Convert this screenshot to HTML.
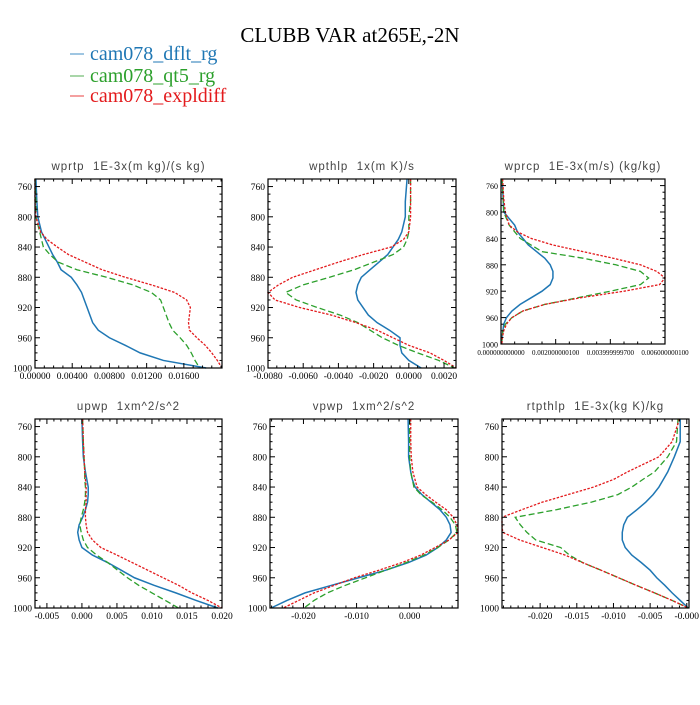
<!DOCTYPE html>
<html><head><meta charset="utf-8"><style>
body{margin:0;background:#fff;}
svg text{font-family:"Liberation Serif",serif;}
.pt{font-family:"Liberation Sans",sans-serif;font-size:11.5px;fill:#444;letter-spacing:1px;white-space:pre;}
</style></head><body>
<svg id="chart" width="700" height="700" xmlns="http://www.w3.org/2000/svg">
<rect width="700" height="700" fill="#fff"/>
<text x="350" y="42" text-anchor="middle" font-size="21">CLUBB VAR at265E,-2N</text>
<g font-size="20">
<line x1="70" x2="84" y1="54" y2="54" stroke="#7fb2d8" stroke-width="1.5"/>
<line x1="70" x2="84" y1="76" y2="76" stroke="#8cc98c" stroke-width="1.5"/>
<line x1="70" x2="84" y1="96" y2="96" stroke="#f08080" stroke-width="1.5"/>
<text x="90" y="60" fill="#1f77b4">cam078_dflt_rg</text>
<text x="90" y="82" fill="#2ca02c">cam078_qt5_rg</text>
<text x="90" y="102" fill="#e31a1c">cam078_expldiff</text>
</g>
<g id="panels"></g>
</svg>
<script>
const levels=[750,780,800,820,830,840,850,860,870,880,890,900,910,920,930,940,950,960,970,980,990,1000];
const seriesNames=["cam078_dflt_rg","cam078_qt5_rg","cam078_expldiff"];
const wprtpDflt=[0.0001,0.0002,0.0003,0.0007,0.0011,0.0015,0.0019,0.0024,0.0028,0.0039,0.0045,0.0050,0.0053,0.0056,0.0059,0.0062,0.0068,0.0080,0.0097,0.0113,0.0138,0.0184];
const wprtpQt5=[0,0.0001,0.0001,0.0005,0.0007,0.0009,0.0016,0.0025,0.0045,0.0077,0.0105,0.0125,0.0135,0.0138,0.0141,0.0144,0.0148,0.0156,0.0163,0.0168,0.0172,0.0177];
const wprtpExpl=[0,0,0.0001,0.0006,0.0013,0.0024,0.0036,0.0054,0.0072,0.0097,0.0125,0.0150,0.0163,0.0167,0.0166,0.0165,0.0166,0.0174,0.0183,0.0190,0.0196,0.0201];
const wpthlpDflt=[-0.0001,-0.0002,-0.0002,-0.0004,-0.0006,-0.0009,-0.0012,-0.0017,-0.0022,-0.0027,-0.0029,-0.0030,-0.0029,-0.0026,-0.0023,-0.0018,-0.0011,-0.0005,-0.0005,-0.0004,0.0000,0.0007];
const wpthlpQt5=[0.0001,0.0001,0,0,-0.0001,-0.0003,-0.0009,-0.0020,-0.0031,-0.0045,-0.0060,-0.0070,-0.0064,-0.0052,-0.0039,-0.0029,-0.0022,-0.0015,-0.0006,0.0005,0.0017,0.0026];
const wpthlpExpl=[0.0001,0.0001,0.0001,0,-0.0003,-0.0010,-0.0026,-0.0040,-0.0053,-0.0066,-0.0074,-0.0080,-0.0076,-0.0062,-0.0044,-0.0030,-0.0018,-0.0009,0.0000,0.0012,0.0020,0.0027];
const wprcpDflt=[0.00004,0.00008,0.0001,0.0005,0.0006,0.0008,0.0010,0.0013,0.0016,0.0018,0.0019,0.0019,0.0018,0.0015,0.0011,0.0007,0.0004,0.0002,0.0001,0.00007,0.00003,0.00001];
const wprcpQt5=[0.00004,0.00008,0.0001,0.0003,0.0005,0.0007,0.0011,0.0015,0.0030,0.0042,0.0051,0.0054,0.0051,0.0040,0.0028,0.0016,0.0008,0.0004,0.00016,0.00007,0.00004,0.00003];
const wprcpExpl=[0.00006,0.0001,0.00016,0.0003,0.0006,0.0011,0.0019,0.0030,0.0041,0.0051,0.0057,0.0060,0.0058,0.0045,0.0029,0.0016,0.0008,0.0004,0.0002,0.0001,0.00005,0.00003];
const upwpDflt=[0,0.0001,0.0002,0.0005,0.0007,0.0009,0.0009,0.0008,0.0005,0.0001,-0.0004,-0.0006,-0.0004,0,0.0015,0.0037,0.0056,0.0075,0.0103,0.0134,0.0163,0.0194];
const upwpQt5=[0.0001,0.0002,0.0003,0.0004,0.0004,0.0005,0.0005,0.0004,0.0002,-0.0001,-0.0003,-0.0001,0.0002,0.0008,0.0021,0.0037,0.0051,0.0065,0.0081,0.0100,0.0119,0.0138];
const upwpExpl=[0.0001,0.0002,0.0003,0.0004,0.0005,0.0006,0.0006,0.0006,0.0005,0.0005,0.0006,0.0008,0.0015,0.0027,0.0050,0.0072,0.0094,0.0116,0.0138,0.0157,0.0180,0.0200];
const vpwpDflt=[-0.0003,-0.0002,-0.0002,0.0002,0.0005,0.0010,0.0023,0.0040,0.0057,0.0069,0.0076,0.0078,0.0069,0.0053,0.0031,-0.0003,-0.0045,-0.0096,-0.0147,-0.0197,-0.0231,-0.0261];
const vpwpQt5=[0,0,0,0.0002,0.0005,0.0008,0.0021,0.0042,0.0061,0.0076,0.0086,0.0089,0.0074,0.0053,0.0027,-0.0007,-0.0045,-0.0083,-0.0121,-0.0155,-0.0180,-0.0199];
const vpwpExpl=[0.0002,0.0002,0.0003,0.0006,0.0010,0.0014,0.0030,0.0049,0.0069,0.0082,0.0089,0.0091,0.0074,0.0048,0.0021,-0.0015,-0.0058,-0.0104,-0.0142,-0.0180,-0.0209,-0.0238];
const rtpthlpDflt=[-0.0009,-0.0009,-0.0017,-0.0026,-0.0032,-0.0038,-0.0046,-0.0056,-0.0068,-0.0081,-0.0086,-0.0088,-0.0088,-0.0084,-0.0075,-0.0062,-0.0050,-0.0041,-0.0030,-0.0020,-0.0009,0.0002];
const rtpthlpQt5=[-0.0012,-0.0014,-0.0026,-0.0044,-0.0060,-0.0075,-0.0094,-0.0130,-0.0178,-0.0234,-0.0227,-0.0218,-0.0206,-0.0172,-0.0160,-0.0142,-0.0117,-0.0093,-0.0069,-0.0044,-0.0020,0.0002];
const rtpthlpExpl=[-0.0010,-0.0020,-0.0038,-0.0081,-0.0100,-0.0127,-0.0162,-0.0197,-0.0225,-0.0252,-0.0252,-0.0251,-0.0228,-0.0197,-0.0166,-0.0142,-0.0117,-0.0093,-0.0069,-0.0044,-0.0020,0.0002];
const yTicks=[760,800,840,880,920,960,1000];
const wprtpTicks=["0.00000","0.00400","0.00800","0.01200","0.01600"];
const wpthlpTicks=["-0.0080","-0.0060","-0.0040","-0.0020","0.0000","0.0020"];
const wprcpTicks=["0.000000000000","0.002000000100","0.003999999700","0.006000000100"];
const upwpTicks=["-0.005","0.000","0.005","0.010","0.015","0.020"];
const vpwpTicks=["-0.020","-0.010","0.000"];
const rtpthlpTicks=["-0.020","-0.015","-0.010","-0.005","-0.000"];

const colors=["#1f77b4","#2ca02c","#e31a1c"];
const dashes=["","6,3","2.5,1.5"];
const NS="http://www.w3.org/2000/svg";
const root=document.getElementById("panels");
function mk(tag,attrs,parent){const e=document.createElementNS(NS,tag);for(const k in attrs)e.setAttribute(k,attrs[k]);(parent||root).appendChild(e);return e;}

const panels=[
 {name:"wprtp",title:"wprtp  1E-3x(m kg)/(s kg)",x0:35,x1:222,y0:179,y1:368,xmin:0,xmax:0.0201,data:[wprtpDflt,wprtpQt5,wprtpExpl],ticks:wprtpTicks,minor:0.001,fs:9.5},
 {name:"wpthlp",title:"wpthlp  1x(m K)/s",x0:268,x1:456,y0:179,y1:368,xmin:-0.0080,xmax:0.00268,data:[wpthlpDflt,wpthlpQt5,wpthlpExpl],ticks:wpthlpTicks,minor:0.0005,fs:9.5},
 {name:"wprcp",title:"wprcp  1E-3x(m/s) (kg/kg)",x0:501,x1:665,y0:179,y1:344,xmin:0,xmax:0.006,data:[wprcpDflt,wprcpQt5,wprcpExpl],ticks:wprcpTicks,minor:0.0005,fs:7,ytfs:8},
 {name:"upwp",title:"upwp  1xm^2/s^2",x0:35,x1:222,y0:419,y1:608,xmin:-0.0067,xmax:0.0200,data:[upwpDflt,upwpQt5,upwpExpl],ticks:upwpTicks,minor:0.001,fs:9.5},
 {name:"vpwp",title:"vpwp  1xm^2/s^2",x0:270,x1:458,y0:419,y1:608,xmin:-0.0263,xmax:0.0091,data:[vpwpDflt,vpwpQt5,vpwpExpl],ticks:vpwpTicks,minor:0.002,fs:9.5},
 {name:"rtpthlp",title:"rtpthlp  1E-3x(kg K)/kg",x0:502,x1:689,y0:419,y1:608,xmin:-0.0252,xmax:0.0003,data:[rtpthlpDflt,rtpthlpQt5,rtpthlpExpl],ticks:rtpthlpTicks,minor:0.001,fs:9.5}
];

panels.forEach(p=>{
 const g=mk("g",{});
 
 
 const sx=v=>p.x0+(v-p.xmin)/(p.xmax-p.xmin)*(p.x1-p.x0);
 const sy=v=>p.y0+(v-750)/250*(p.y1-p.y0);
 const t=mk("text",{x:(p.x0+p.x1)/2,y:p.y0-9,"text-anchor":"middle",class:"pt","xml:space":"preserve"},g);
 t.textContent=p.title;
 
 
 p.data.forEach((arr,si)=>{
  const pts=arr.map((v,i)=>sx(v).toFixed(2)+","+sy(levels[i]).toFixed(2)).join(" ");
  const pl=mk("polyline",{points:pts,fill:"none",stroke:colors[si],"stroke-width":si==0?1.5:1.3,"stroke-dasharray":dashes[si]},g);
  
  
 });
 const fr=mk("rect",{x:p.x0,y:p.y0,width:p.x1-p.x0,height:p.y1-p.y0,fill:"none",stroke:"#000","stroke-width":1.2},g);
 
 
 for(let v=760;v<=1000;v+=10){
  const major=(v-760)%40==0;const L=major?5:2.5;const y=sy(v);
  mk("line",{x1:p.x0,x2:p.x0+L,y1:y,y2:y,stroke:"#000","stroke-width":1},g);
  mk("line",{x1:p.x1,x2:p.x1-L,y1:y,y2:y,stroke:"#000","stroke-width":1},g);
 }
 yTicks.forEach(v=>{
  const tt=mk("text",{x:p.x0-3,y:sy(v)+3.5,"text-anchor":"end","font-size":p.ytfs||9.5},g);
  tt.textContent=v;
  
  
 });
 const start=Math.ceil(p.xmin/p.minor-1e-6);
 for(let k=start;k*p.minor<=p.xmax+1e-9;k++){
  const v=k*p.minor;const x=sx(v);
  const vals=p.ticks.map(Number);
  const major=vals.some(m=>Math.abs(m-v)<p.minor*0.1);
  const L=major?5:2.5;
  mk("line",{x1:x,x2:x,y1:p.y1,y2:p.y1-L,stroke:"#000","stroke-width":1},g);
  mk("line",{x1:x,x2:x,y1:p.y0,y2:p.y0+L,stroke:"#000","stroke-width":1},g);
 }
 p.ticks.forEach(s=>{
  const tt=mk("text",{x:sx(Number(s)),y:p.y1+11,"text-anchor":"middle","font-size":p.fs},g);
  tt.textContent=s;
  
  
 });
});
</script>
</body></html>
